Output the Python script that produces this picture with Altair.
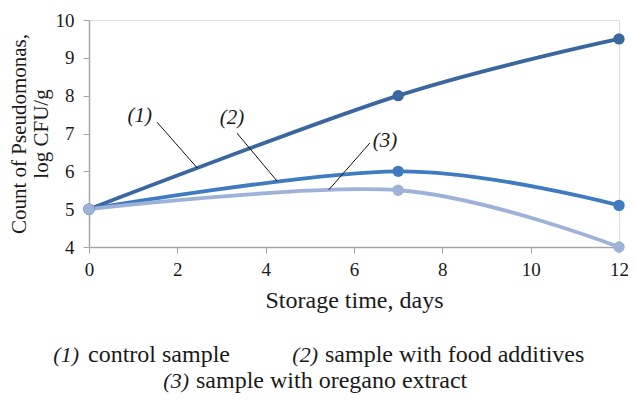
import altair as alt
import pandas as pd

days = [0, 7, 12]
control = [5.0, 8.0, 9.5]
additives = [5.0, 6.0, 5.1]
oregano = [5.0, 5.5, 4.0]
series_names = ["(1)", "(2)", "(3)"]
colors = ["#3A679E", "#3E7BBF", "#9DB2D6"]

x_ticks = [0, 2, 4, 6, 8, 10, 12]
y_ticks = [4, 5, 6, 7, 8, 9, 10]

# annotation labels and leader lines (data coordinates)
ann_labels = ["(1)", "(2)", "(3)"]
ann_text_x = [1.15, 3.24, 6.70]
ann_text_y = [7.47, 7.42, 6.81]
lead_x1 = [1.54, 3.35, 6.36]
lead_y1 = [7.30, 7.01, 6.75]
lead_x2 = [2.45, 4.26, 5.43]
lead_y2 = [6.09, 5.74, 5.51]

# bottom legend text
leg_italic = ["(1)", "(2)", "(3)"]
leg_desc = ["control sample", "sample with food additives", "sample with oregano extract"]

rows = []
for name, vals in zip(series_names, [control, additives, oregano]):
    for d, v in zip(days, vals):
        rows.append({"series": name, "day": d, "value": v})
df = pd.DataFrame(rows)

FONT = "Liberation Serif"
TXT = "#1a1a1a"
AX = "#A6A6A6"

X_SCALE = alt.Scale(domain=[0, 12], nice=False)
Y_SCALE = alt.Scale(domain=[4, 10], nice=False)
X_AXIS = alt.Axis(values=x_ticks, title="Storage time, days", grid=False,
                  domainColor=AX, tickColor=AX, tickSize=6, domainWidth=1.5,
                  labelFont=FONT, labelFontSize=19, labelColor=TXT,
                  labelPadding=7, labelFlush=False, labelOverlap=False,
                  titleFont=FONT, titleFontSize=24,
                  titleFontWeight="normal", titleColor=TXT, titlePadding=9)
Y_AXIS = alt.Axis(values=y_ticks, title=["Count of Pseudomonas,", "log CFU/g"],
                  grid=False, domainColor=AX, tickColor=AX, tickSize=6, domainWidth=1.5,
                  labelFont=FONT, labelFontSize=19, labelColor=TXT, labelPadding=9,
                  labelOverlap=False, labelFlush=False,
                  titleFont=FONT, titleFontSize=21, titleFontWeight="normal",
                  titleColor=TXT, titlePadding=4, titleLineHeight=22)


def X(f):
    return alt.X(f, scale=X_SCALE, axis=X_AXIS)


def Y(f):
    return alt.Y(f, scale=Y_SCALE, axis=Y_AXIS)


color = alt.Color("series:N", scale=alt.Scale(domain=series_names, range=colors), legend=None)

base = alt.Chart(df)
lines = base.mark_line(interpolate="cardinal", strokeWidth=3.8).encode(
    x=X("day:Q"), y=Y("value:Q"), color=color)
points = base.mark_circle(size=130, opacity=1).encode(
    x=X("day:Q"), y=Y("value:Q"), color=color)

ann_df = pd.DataFrame({"label": ann_labels, "x": ann_text_x, "y": ann_text_y,
                       "x1": lead_x1, "y1": lead_y1, "x2": lead_x2, "y2": lead_y2})
ann_text = alt.Chart(ann_df).mark_text(font=FONT, fontSize=21, fontStyle="italic",
                                       color=TXT).encode(
    x=X("x:Q"), y=Y("y:Q"), text="label:N")
ann_lines = alt.Chart(ann_df).mark_rule(color="#111", strokeWidth=1).encode(
    x=X("x1:Q"), y=Y("y1:Q"), x2="x2:Q", y2="y2:Q")

# pixel placement of legend pieces relative to plot origin (layout only)
it_right = [-10, 229, 100]
desc_x = [-1, 236, 107]
row_y = [342, 368]
row_of = [0, 0, 1]
legend_layers = []
for i in range(3):
    r = pd.DataFrame({"it": [leg_italic[i]], "desc": [leg_desc[i]]})
    py = float(row_y[row_of[i]])
    legend_layers.append(alt.Chart(r).mark_text(font=FONT, fontSize=22, fontStyle="italic",
                                                align="right", baseline="alphabetic",
                                                color=TXT).encode(
        x=alt.value(float(it_right[i])), y=alt.value(py), text="it:N"))
    legend_layers.append(alt.Chart(r).mark_text(font=FONT, fontSize=24, align="left",
                                                baseline="alphabetic", color=TXT).encode(
        x=alt.value(float(desc_x[i])), y=alt.value(py), text="desc:N"))

chart = alt.layer(lines, points, ann_lines, ann_text, *legend_layers).properties(
    width=530, height=227, autosize=alt.AutoSizeParams(type="none"),
    padding={"left": 81, "top": 12, "right": 9, "bottom": 146}
).configure_view(stroke=None).configure(background="white", font=FONT)

chart.save("out.html", embed_options={"renderer": "svg", "actions": False})
